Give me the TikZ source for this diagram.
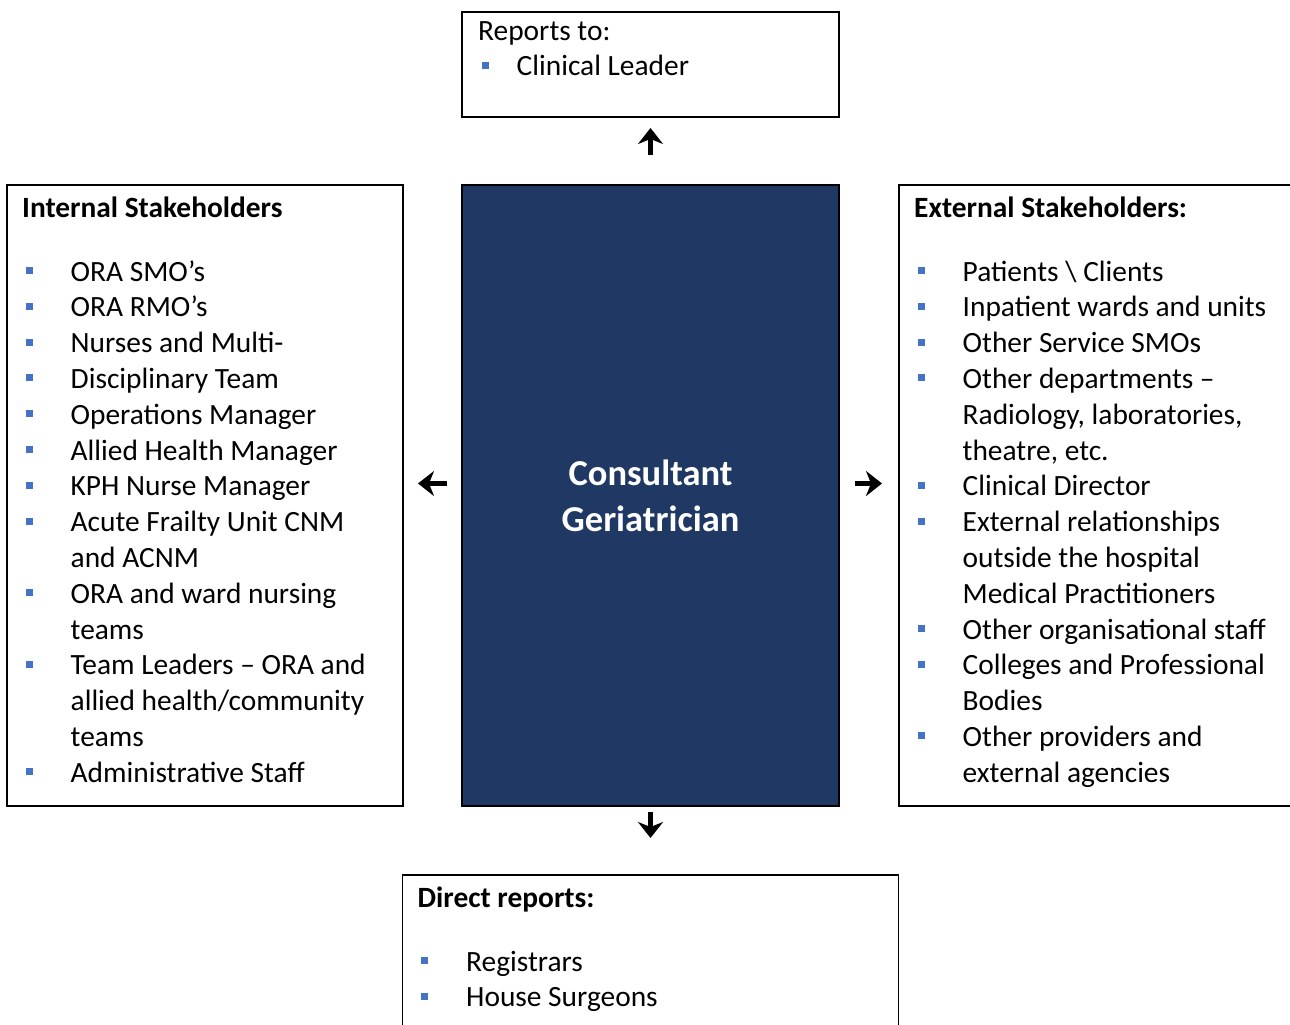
\documentclass[tikz,border=0pt]{standalone}
\usepackage{fontspec}
\setmainfont{Carlito}
\usetikzlibrary{positioning,arrows.meta}
\definecolor{coreC}{HTML}{203864}
\definecolor{bulC}{HTML}{4472C4}
% square bullet, bulleted line, continuation line, heading line
\newcommand{\bsq}{\textcolor{bulC}{\rule[7pt]{7pt}{7pt}}}
\newcommand{\itm}[2][45pt]{\hspace*{3.5pt}\makebox[#1][l]{\bsq}#2}
\newcommand{\cnt}[1]{\hspace*{48.5pt}#1}
\newcommand{\hd}[1]{\rule{0pt}{25pt}#1}
\tikzset{
  frame/.style={draw, line width=1.8pt, inner sep=0pt, outer sep=0pt},
  core/.style={frame, fill=coreC, text=white, align=center,
               font=\fontsize{36.5}{46}\selectfont\bfseries},
  list/.style={anchor=north west, align=left, inner sep=0pt,
               font=\fontsize{29.4}{35.8}\selectfont},
  link/.style={line width=5.5pt, -{Stealth[length=16pt,width=25pt,inset=5pt]}},
}
\begin{document}
\begin{tikzpicture}[x=1pt, y=1pt]
\useasboundingbox (0,0) rectangle (1290,-1025);
\clip (0,0) rectangle (1290,-1025);

% boxes
\node[core, minimum width=377, minimum height=621] (cg) at (650.5,-495.5)
  {Consultant\\Geriatrician};
\node[frame, minimum width=377, minimum height=105, above=68pt of cg] (rep) {};
\node[frame, minimum width=396, minimum height=621, left=59pt of cg] (int) {};
\node[frame, minimum width=420, minimum height=621, right=60pt of cg] (ext) {};
\node[frame, minimum width=496, minimum height=180, below=69pt of cg] (dir) {};

% box contents
\node[list] (repl) at ([xshift=16pt,yshift=-3pt]rep.north west)
  {\hd{Reports to:}\\
   \itm[35pt]{Clinical Leader}};
\node[list] (intl) at ([xshift=15pt,yshift=-7.5pt]int.north west)
  {\hd{\textbf{Internal Stakeholders}}\\[27.5pt]
   \itm{ORA SMO’s}\\
   \itm{ORA RMO’s}\\
   \itm{Nurses and Multi-}\\
   \itm{Disciplinary Team}\\
   \itm{Operations Manager}\\
   \itm{Allied Health Manager}\\
   \itm{KPH Nurse Manager}\\
   \itm{Acute Frailty Unit CNM}\\
   \cnt{and ACNM}\\
   \itm{ORA and ward nursing}\\
   \cnt{teams}\\
   \itm{Team Leaders – ORA and}\\
   \cnt{allied health/community}\\
   \cnt{teams}\\
   \itm{Administrative Staff}};
\node[list] (extl) at ([xshift=15pt,yshift=-7.5pt]ext.north west)
  {\hd{\textbf{External Stakeholders:}}\\[27.5pt]
   \itm{Patients \textbackslash{} Clients}\\
   \itm{Inpatient wards and units}\\
   \itm{Other Service SMOs}\\
   \itm{Other departments –}\\
   \cnt{Radiology, laboratories,}\\
   \cnt{theatre, etc.}\\
   \itm{Clinical Director}\\
   \itm{External relationships}\\
   \cnt{outside the hospital}\\
   \cnt{Medical Practitioners}\\
   \itm{Other organisational staff}\\
   \itm{Colleges and Professional}\\
   \cnt{Bodies}\\
   \itm{Other providers and}\\
   \cnt{external agencies}};
\node[list] (dirl) at ([xshift=15pt,yshift=-7.5pt]dir.north west)
  {\hd{\textbf{Direct reports:}}\\[27.5pt]
   \itm{Registrars}\\
   \itm{House Surgeons}};

% arrows
\draw[link, shorten <=30pt, shorten >=11pt] (cg.north) -- (rep.south);
\draw[link, shorten <=15pt, shorten >=15pt]
  ([yshift=12pt]cg.west) -- ([yshift=12pt]int.east);
\draw[link, shorten <=16pt, shorten >=17pt]
  ([yshift=12pt]cg.east) -- ([yshift=12pt]ext.west);
\draw[link, shorten <=6pt, shorten >=37pt] (cg.south) -- (dir.north);
\end{tikzpicture}
\end{document}
